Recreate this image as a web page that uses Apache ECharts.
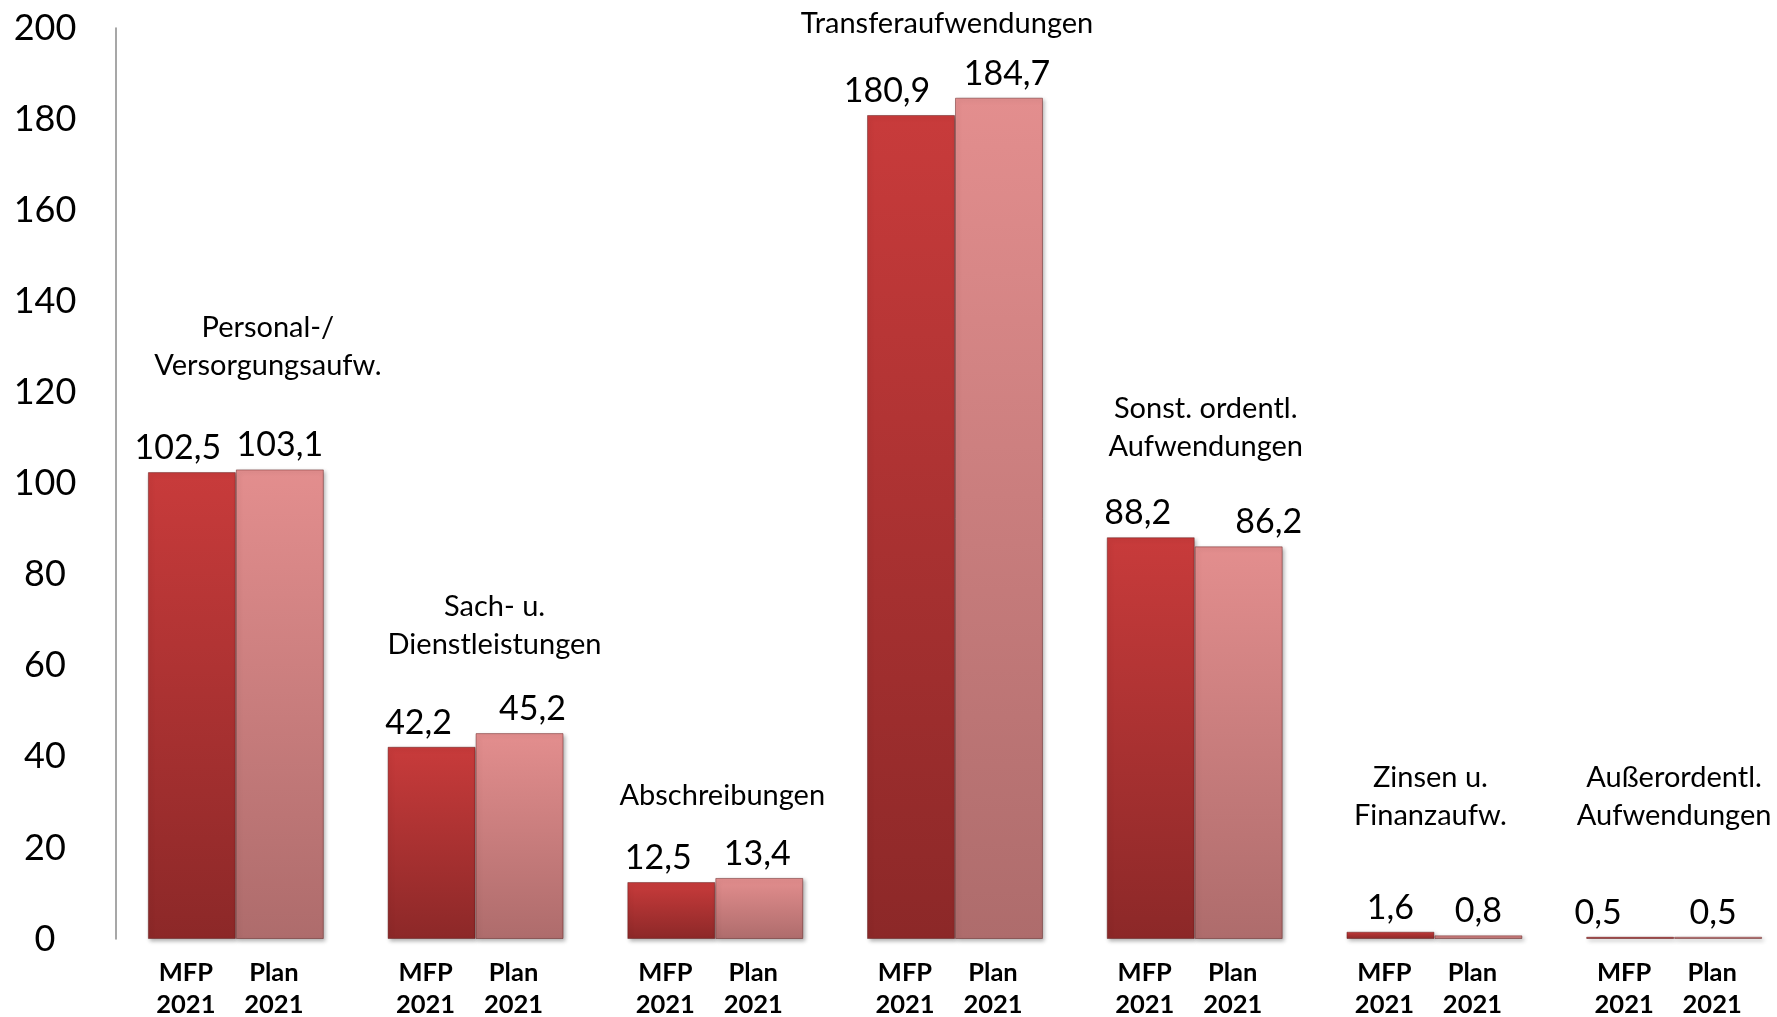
<!DOCTYPE html>
<html><head><meta charset="utf-8">
<script src="https://cdn.jsdelivr.net/npm/echarts@6/dist/echarts.min.js"></script>
<style>html,body{margin:0;padding:0;background:#fff}#c{width:1777px;height:1017px}</style>
</head><body><div id="c"></div>
<script>
// ---- data ----
const categories = ['Personal-/\nVersorgungsaufw.', 'Sach- u.\nDienstleistungen', 'Abschreibungen', 'Transferaufwendungen', 'Sonst. ordentl.\nAufwendungen', 'Zinsen u.\nFinanzaufw.', 'Außerordentl.\nAufwendungen'];
const seriesNames = ['MFP 2021', 'Plan 2021'];
const mfp = [102.5, 42.2, 12.5, 180.9, 88.2, 1.6, 0.5];
const plan = [103.1, 45.2, 13.4, 184.7, 86.2, 0.8, 0.5];
const yMin = 0, yMax = 200, yStep = 20;

// ---- layout (pixel offsets for annotations) ----
const catLabelLift = [123, 107, 82, 74, 110, 135, 140];
const catLabelDx = [32, 19, 7, -8, 11, -4, 0];
const mfpLabelDx = [-14, -13, -13, -24, -13, 0, -32];
const planLabelDx = [0, 13, -2, 8, 30, 0, -5];

const FONT = 'Lato';
const fmt = v => v.toFixed(1).replace('.', ',');

const mfpColor = new echarts.graphic.LinearGradient(0, 0, 0, 1, [
  {offset: 0, color: '#c83b3b'}, {offset: 1, color: '#8c2828'}]);
const planColor = new echarts.graphic.LinearGradient(0, 0, 0, 1, [
  {offset: 0, color: '#e38e8e'}, {offset: 1, color: '#ae6c6c'}]);

const barStyle = c => ({
  color: c, borderColor: 'rgba(90,20,20,0.45)', borderWidth: 1,
  shadowColor: 'rgba(0,0,0,0.3)', shadowBlur: 4, shadowOffsetX: 2, shadowOffsetY: 2
});

const names = seriesNames.map(s => s.split(' '));
const xLabel = '{c|' + names[0][0] + '}{c|' + names[1][0] + '}\n{c|' + names[0][1] + '}{c|' + names[1][1] + '}';

const chart = echarts.init(document.getElementById('c'), null, {renderer: 'canvas'});
chart.setOption({
  animation: false,
  backgroundColor: '#fff',
  textStyle: {fontFamily: FONT},
  grid: {left: 116, width: 1678, top: 28, bottom: 78, containLabel: false, outerBoundsMode: 'none'},
  xAxis: {
    type: 'category', data: categories,
    axisLine: {show: false}, axisTick: {show: false},
    axisLabel: {
      interval: 0, margin: 18, formatter: () => xLabel,
      rich: {c: {width: 76, padding: [0, 12, 0, 0], align: 'center', fontFamily: FONT, fontWeight: 'bold', fontSize: 25.5, lineHeight: 32, color: '#000'}}
    }
  },
  yAxis: {
    type: 'value', min: yMin, max: yMax, interval: yStep,
    splitLine: {show: false}, axisTick: {show: false},
    axisLine: {show: true, lineStyle: {color: '#8a8a8a', width: 1.5}},
    axisLabel: {align: 'center', margin: 71, fontFamily: FONT, fontSize: 36, color: '#000'}
  },
  series: [
    {
      name: seriesNames[0], type: 'bar', barGap: '0%', barCategoryGap: '26.6%',
      data: mfp.map((v, i) => ({value: v, label: {offset: [mfpLabelDx[i], 0]}})),
      itemStyle: barStyle(mfpColor),
      label: {show: true, position: 'top', distance: 7, fontFamily: FONT, fontSize: 34, color: '#000', formatter: p => fmt(p.value)}
    },
    {
      name: seriesNames[1], type: 'bar',
      data: plan.map((v, i) => ({value: v, label: {offset: [planLabelDx[i], 0]}})),
      itemStyle: barStyle(planColor),
      label: {show: true, position: 'top', distance: 7, fontFamily: FONT, fontSize: 34, color: '#000', formatter: p => fmt(p.value)}
    },
    {
      name: 'labels', type: 'scatter', symbolSize: 1, itemStyle: {color: 'rgba(0,0,0,0)'}, silent: true,
      data: categories.map((c, i) => ({value: [i, Math.max(mfp[i], plan[i])], label: {offset: [catLabelDx[i], -catLabelLift[i]]}})),
      label: {show: true, position: 'inside', fontFamily: FONT, fontSize: 29, lineHeight: 38, color: '#000', opacity: 1, align: 'center',
        formatter: p => categories[p.dataIndex]}
    }
  ]
});
</script></body></html>
